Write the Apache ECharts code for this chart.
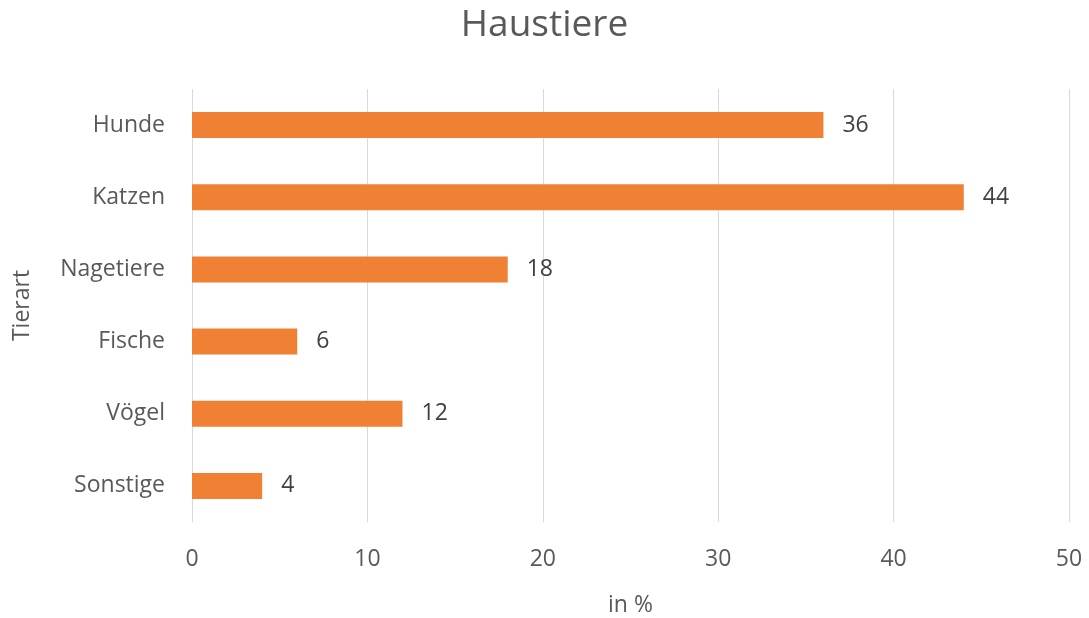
<!DOCTYPE html>
<html>
<head>
<meta charset="utf-8">
<script src="https://cdn.jsdelivr.net/npm/echarts@6/dist/echarts.min.js"></script>
<style>
  html, body { margin: 0; padding: 0; background: #fff; }
  #chart { width: 1089px; height: 618px; }
</style>
</head>
<body>
<div id="chart"></div>
<script>
const categories = ['Hunde', 'Katzen', 'Nagetiere', 'Fische', 'Vögel', 'Sonstige'];
const values = [36, 44, 18, 6, 12, 4];
const xTicks = [0, 10, 20, 30, 40, 50];

const textColor = '#595959';
const fontFamily = '"Open Sans", sans-serif';

const chart = echarts.init(document.getElementById('chart'));

chart.setOption({
  animation: false,
  title: {
    text: 'Haustiere',
    left: 'center',
    top: 2,
    textStyle: { color: textColor, fontSize: 37, fontWeight: 'normal', fontFamily }
  },
  grid: { left: 192, right: 20, top: 89, bottom: 96, containLabel: false, outerBoundsMode: 'none' },
  xAxis: {
    type: 'value',
    min: xTicks[0],
    max: xTicks[xTicks.length - 1],
    interval: 10,
    name: 'in %',
    nameLocation: 'middle',
    nameGap: 72,
    nameTextStyle: { color: textColor, fontSize: 23, fontFamily },
    axisLine: { show: false },
    axisTick: { show: false },
    axisLabel: { color: textColor, fontSize: 23, fontFamily, margin: 26 },
    splitLine: { lineStyle: { color: '#d9d9d9', width: 1 } }
  },
  yAxis: {
    type: 'category',
    data: categories,
    inverse: true,
    name: 'Tierart',
    nameLocation: 'middle',
    nameGap: 158,
    nameRotate: 90,
    nameTextStyle: { color: textColor, fontSize: 23, fontFamily },
    axisLine: { show: false },
    axisTick: { show: false },
    axisLabel: { color: textColor, fontSize: 23, fontFamily, margin: 27 }
  },
  series: [{
    type: 'bar',
    data: values,
    barWidth: 26,
    itemStyle: { color: '#F08033' },
    label: {
      show: true,
      position: 'right',
      distance: 19,
      color: '#404040',
      fontSize: 23,
      fontFamily
    }
  }]
});
</script>
</body>
</html>
